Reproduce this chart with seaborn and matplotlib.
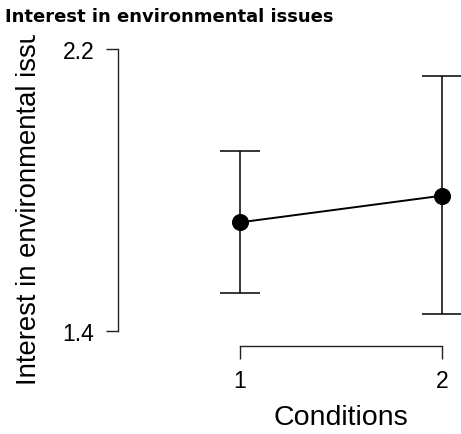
import numpy as np
import pandas as pd
import matplotlib
matplotlib.use("Agg")
import matplotlib.pyplot as plt
import seaborn as sns
from matplotlib.transforms import Bbox

# Descriptives per condition: mean with 95% interval bounds
conditions = [1, 2]
means = [1.708, 1.784]
ci_lower = [1.507, 1.448]
ci_upper = [1.911, 2.123]
y_ticks = [1.4, 2.2]
x_ticks = [1, 2]

title = "Interest in environmental issues"
y_label = "Interest in environmental issues"
x_label = "Conditions"

sns.set_style("ticks")
plt.rcParams["font.family"] = ["Liberation Sans", "DejaVu Sans"]
plt.rcParams["text.color"] = "black"

W, H = 461, 435
fig = plt.figure(figsize=(W / 100, H / 100), dpi=100)
ax = fig.add_axes([118 / W, 1 - 346.7 / H, 1 - 118 / W, (346.7 - 45) / H])

df = pd.DataFrame({"Condition": conditions, "Mean": means})
sns.lineplot(data=df, x="Condition", y="Mean", ax=ax, color="black",
             lw=1.4, marker="o", markersize=11.5, markeredgecolor="black",
             zorder=3)
yerr = [np.subtract(means, ci_lower), np.subtract(ci_upper, means)]
ax.errorbar(conditions, means, yerr=yerr, fmt="none", ecolor="black",
            elinewidth=1.1, capsize=14.4, capthick=1.1, zorder=2)

ax.set_xlim(0.401, 2.092)
ax.set_ylim(1.3583, 2.2142)
ax.set_xticks(x_ticks)
ax.set_xticklabels([str(v) for v in x_ticks])
ax.set_yticks(y_ticks)
ax.set_yticklabels([f"{v:.1f}" for v in y_ticks])
ax.set_xlabel("")
ax.set_ylabel("")

for side in ("top", "right"):
    ax.spines[side].set_visible(False)
ax.spines["left"].set_bounds(y_ticks[0], y_ticks[-1])
ax.spines["bottom"].set_bounds(x_ticks[0], x_ticks[-1])
for side in ("left", "bottom"):
    ax.spines[side].set_linewidth(1.0)
    ax.spines[side].set_color("#222222")
ax.tick_params(direction="out", length=9, width=1.0, color="#222222",
               labelsize=16.5, pad=8, labelcolor="black")
ax.patch.set_alpha(0)

fig.text(341 / W, 1 - 418 / H, x_label, ha="center", va="center",
         fontsize=20.5, color="black")

ylab = fig.text(36 / W, 1 - 385 / H, y_label, rotation=90,
                rotation_mode="anchor", ha="left", va="baseline",
                fontsize=19.8, color="black")
ylab.set_clip_box(Bbox([[0, 0], [W, H - 36]]))
ylab.set_clip_on(True)

fig.text(5 / W, 1 - 17 / H, title, ha="left", va="center",
         fontsize=13, fontweight="bold", family=["DejaVu Sans"],
         color="black")

fig.savefig("out.png", dpi=100)
